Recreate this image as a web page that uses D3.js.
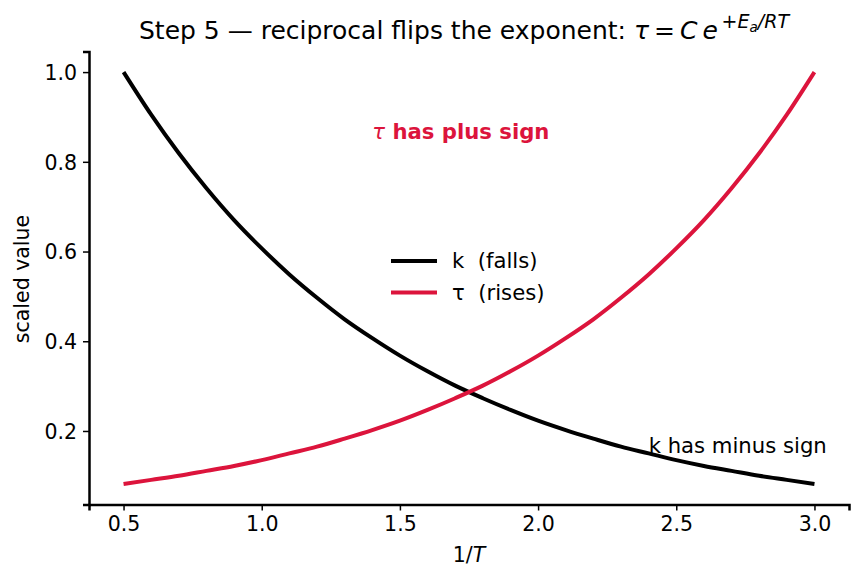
<!DOCTYPE html>
<html><head><meta charset="utf-8">
<script src="https://cdn.jsdelivr.net/npm/d3@7"></script>
<style>body{margin:0;background:#fff}text{font-family:"DejaVu Sans",sans-serif;white-space:pre}</style>
</head><body><svg id="c" width="862" height="581"></svg>
<script>
const xs = [0.5,0.6,0.7,0.8,0.9,1.0,1.1,1.2,1.3,1.4,1.5,1.6,1.7,1.8,1.9,2.0,2.1,2.2,2.3,2.4,2.5,2.6,2.7,2.8,2.9,3.0];
const kVals = [1.000,0.905,0.819,0.741,0.670,0.607,0.549,0.497,0.449,0.407,0.368,0.333,0.301,0.273,0.247,0.223,0.202,0.183,0.165,0.150,0.135,0.122,0.111,0.100,0.091,0.082];
const tauVals = [0.082,0.091,0.100,0.111,0.122,0.135,0.150,0.165,0.183,0.202,0.223,0.247,0.273,0.301,0.333,0.368,0.407,0.449,0.497,0.549,0.607,0.670,0.741,0.819,0.905,1.000];
const xTicks = [0.5,1.0,1.5,2.0,2.5,3.0];
const yTicks = [0.2,0.4,0.6,0.8,1.0];
const seriesNames = ["k  (falls)", "\u03c4  (rises)"];
const colors = ["#000000", "#DC143C"];

const FS = 20.5, FS2 = 21.2;
const svg = d3.select("#c");
const L=89, R=849, T=51.5, B=504.5;
const x = d3.scaleLinear().domain([0.375,3.125]).range([L,R]);
const y = d3.scaleLinear().domain([0.0361,1.0459]).range([B,T]);

const xa = svg.append("g").attr("transform",`translate(0,${B})`)
  .call(d3.axisBottom(x).tickValues(xTicks).tickFormat(d3.format(".1f")).tickSizeOuter(0).tickSize(6).tickPadding(6));
const ya = svg.append("g").attr("transform",`translate(${L},0)`)
  .call(d3.axisLeft(y).tickValues(yTicks).tickFormat(d3.format(".1f")).tickSizeOuter(0).tickSize(6).tickPadding(6));
[xa,ya].forEach(a=>{
  a.select(".domain").attr("stroke","#000").attr("stroke-width",2.5);
  a.selectAll(".tick line").attr("stroke","#000").attr("stroke-width",1.5);
  a.selectAll(".tick text").attr("font-size",FS).attr("fill","#000").attr("font-family","DejaVu Sans");
});
ya.selectAll(".tick text").attr("dy","0.36em");

const line = d3.line().curve(d3.curveMonotoneX);
[kVals,tauVals].forEach((vals,i)=>{
  svg.append("path").attr("d", line(xs.map((v,j)=>[x(v),y(vals[j])])))
    .attr("fill","none").attr("stroke",colors[i]).attr("stroke-width",4).attr("stroke-linecap","butt");
});

// title
const title = svg.append("text").attr("x",139).attr("y",39).attr("font-size",25).attr("fill","#000");
title.append("tspan").text("Step 5 \u2014 reciprocal flips the exponent: ");
title.append("tspan").attr("font-style","italic").text("\u03c4");
title.append("tspan").text("\u2009=\u2009");
title.append("tspan").attr("font-style","italic").text("C\u2009e");
title.append("tspan").attr("dy",-11).attr("font-size",19).text("\u2009+");
title.append("tspan").attr("font-size",19).attr("font-style","italic").text("E");
title.append("tspan").attr("dy",4).attr("font-size",13.5).attr("font-style","italic").text("a");
title.append("tspan").attr("dy",-4).attr("font-size",19).attr("font-style","italic").text("/RT");

// axis labels
const xl = svg.append("text").attr("x",469).attr("y",562).attr("text-anchor","middle").attr("font-size",FS).attr("fill","#000");
xl.append("tspan").text("1/");
xl.append("tspan").attr("font-style","italic").text("T");
svg.append("text").attr("transform",`translate(29,279) rotate(-90)`).attr("text-anchor","middle").attr("font-size",FS).attr("fill","#000").text("scaled value");

// annotations
const a1 = svg.append("text").attr("x",x(1.4)).attr("y",y(0.85)).attr("font-size",FS2).attr("font-weight","bold").attr("fill",colors[1]);
a1.append("tspan").attr("font-style","italic").attr("font-weight","normal").text("\u03c4");
a1.append("tspan").text(" has plus sign");
svg.append("text").attr("x",x(2.4)).attr("y",y(0.15)).attr("font-size",FS2).attr("fill","#000").text("k has minus sign");

// legend
const lg = svg.append("g");
seriesNames.forEach((n,i)=>{
  const yy = 261 + i*31.5;
  lg.append("line").attr("x1",391).attr("x2",437).attr("y1",yy).attr("y2",yy).attr("stroke",colors[i]).attr("stroke-width",4);
  lg.append("text").attr("x",452).attr("y",yy+7).attr("font-size",FS2).attr("fill","#000").text(n);
});
</script></body></html>
